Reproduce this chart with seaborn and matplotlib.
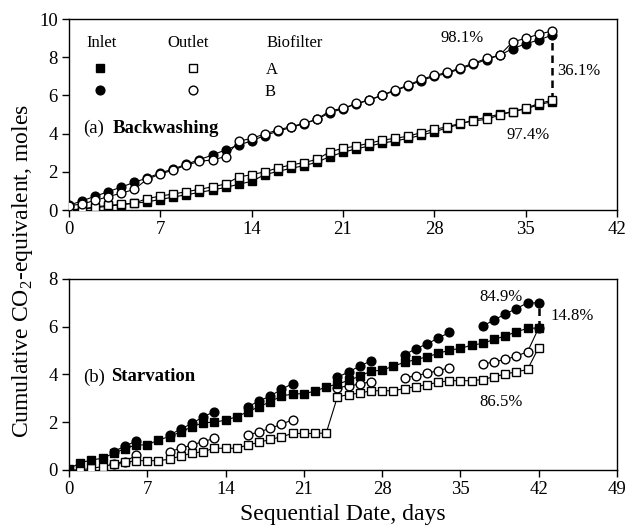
import numpy as np
import pandas as pd
import matplotlib
matplotlib.use("Agg")
import matplotlib.pyplot as plt
import seaborn as sns

# ---- (a) Backwashing: days 0-37 ----
days_a = list(range(38))
inlet_a_A = [0.0, 0.05, 0.12, 0.2, 0.28, 0.35, 0.43, 0.55, 0.68, 0.8, 0.92, 1.05, 1.18, 1.35,
             1.5, 1.85, 2.02, 2.18, 2.32, 2.5, 2.8, 3.02, 3.2, 3.35, 3.5, 3.62, 3.75, 3.92,
             4.1, 4.3, 4.5, 4.72, 4.85, 5.02, 5.15, 5.3, 5.5, 5.68]
outlet_a_A = [0.0, 0.06, 0.16, 0.24, 0.3, 0.36, 0.6, 0.73, 0.84, 0.96, 1.08, 1.22, 1.36, 1.73,
              1.85, 2.0, 2.2, 2.36, 2.48, 2.65, 3.05, 3.23, 3.35, 3.49, 3.66, 3.75, 3.87, 4.05,
              4.22, 4.36, 4.54, 4.66, 4.75, 4.97, 5.15, 5.32, 5.58, 5.74]
inlet_a_B = [0.25, 0.48, 0.72, 0.96, 1.2, 1.45, 1.68, 1.94, 2.15, 2.4, 2.64, 2.88, 3.15, 3.4,
             3.62, 3.9, 4.12, 4.32, 4.52, 4.74, 5.1, 5.3, 5.55, 5.75, 6.0, 6.25, 6.5, 6.78,
             7.0, 7.15, 7.4, 7.62, 7.88, 8.1, 8.45, 8.7, 8.9, 9.15]
outlet_a_B = [0.22, 0.32, 0.5, 0.7, 0.88, 1.08, 1.62, 1.88, 2.1, 2.35, 2.55, 2.62, 2.8, 3.6,
              3.75, 3.98, 4.19, 4.36, 4.54, 4.75, 5.2, 5.32, 5.58, 5.76, 6.02, 6.28, 6.54, 6.84,
              7.05, 7.2, 7.45, 7.68, 7.94, 8.1, 8.8, 8.99, 9.2, 9.37]

# ---- (b) Starvation: days 0-42 ----
days_b = list(range(43))
inlet_b_A = [0.05, 0.3, 0.42, 0.49, 0.7, 0.9, 1.05, 1.05, 1.26, 1.4, 1.6, 1.81, 1.98, 2.0,
             2.09, 2.23, 2.44, 2.65, 2.86, 3.1, 3.18, 3.2, 3.3, 3.48, 3.6, 3.75, 3.93, 4.14,
             4.18, 4.35, 4.51, 4.62, 4.74, 4.88, 5.02, 5.09, 5.23, 5.3, 5.47, 5.61, 5.79,
             5.93, 5.95]
outlet_b_A = [0.0, 0.0, 0.07, 0.14, 0.25, 0.32, 0.39, 0.39, 0.39, 0.45, 0.59, 0.7, 0.77, 0.91,
              0.91, 0.91, 1.05, 1.16, 1.28, 1.39, 1.53, 1.53, 1.53, 1.55, 3.06, 3.16, 3.22,
              3.32, 3.32, 3.32, 3.41, 3.49, 3.58, 3.67, 3.74, 3.74, 3.74, 3.79, 3.9, 4.02,
              4.11, 4.21, 5.13]
days_b_B = [4, 5, 6, 9, 10, 11, 12, 13, 16, 17, 18, 19, 20, 24, 25, 26, 27,
            30, 31, 32, 33, 34, 37, 38, 39, 40, 41, 42]
inlet_b_B = [0.77, 1.0, 1.21, 1.46, 1.72, 1.95, 2.23, 2.44, 2.65, 2.89, 3.1, 3.38, 3.62,
             3.88, 4.11, 4.35, 4.57, 4.83, 5.07, 5.28, 5.52, 5.76,
             6.03, 6.28, 6.53, 6.76, 7.0, 7.0]
outlet_b_B = [0.27, 0.35, 0.62, 0.77, 0.91, 1.05, 1.19, 1.32, 1.46, 1.6, 1.74, 1.92, 2.1,
              3.45, 3.52, 3.6, 3.7, 3.86, 3.95, 4.05, 4.16, 4.28,
              4.43, 4.53, 4.63, 4.77, 4.95, 5.95]

sns.set_style("ticks")
plt.rcParams['font.family'] = ['Liberation Serif', 'DejaVu Serif']
plt.rcParams['mathtext.fontset'] = 'custom'
plt.rcParams['mathtext.rm'] = 'Liberation Serif'
plt.rcParams['text.color'] = 'black'
plt.rcParams['axes.labelcolor'] = 'black'
plt.rcParams['xtick.color'] = 'black'
plt.rcParams['ytick.color'] = 'black'


def draw(ax, days, vals, marker, filled, ms):
    d = pd.DataFrame({"day": days, "v": vals})
    d["seg"] = (d["day"].diff().fillna(1) > 1).cumsum()
    sns.lineplot(data=d, x="day", y="v", units="seg", estimator=None, ax=ax,
                 color="black", lw=0.8, marker=marker, markersize=ms,
                 markerfacecolor="black" if filled else "white",
                 markeredgecolor="black", markeredgewidth=1.0, zorder=3)


fig = plt.figure(figsize=(6.29, 5.31), dpi=100)
ax1 = fig.add_axes([0.1097, 0.6045, 0.8712, 0.3597])
ax2 = fig.add_axes([0.1097, 0.1149, 0.8712, 0.3597])

# panel (a)
ax1.vlines(days_a[-1], outlet_a_A[-1], inlet_a_B[-1], colors="black",
           linestyles=(0, (3, 2)), lw=1.8, zorder=2)
draw(ax1, days_a, inlet_a_A, "s", True, 5.8)
draw(ax1, days_a, outlet_a_A, "s", False, 5.8)
draw(ax1, days_a, inlet_a_B, "o", True, 6.3)
draw(ax1, days_a, outlet_a_B, "o", False, 6.3)

# panel (b)
ax2.vlines(days_b[-1], inlet_b_A[-1], inlet_b_B[-1], colors="black",
           linestyles=(0, (3, 2)), lw=1.8, zorder=2)
draw(ax2, days_b_B, outlet_b_B, "o", False, 6.3)
draw(ax2, days_b, outlet_b_A, "s", False, 5.8)
draw(ax2, days_b_B, inlet_b_B, "o", True, 6.3)
draw(ax2, days_b, inlet_b_A, "s", True, 5.8)

ax1.set_xlim(0, 42)
ax1.set_ylim(0, 10)
ax1.set_xticks(range(0, 43, 7))
ax1.set_yticks(range(0, 11, 2))
ax2.set_xlim(0, 49)
ax2.set_ylim(0, 8)
ax2.set_xticks(range(0, 50, 7))
ax2.set_yticks(range(0, 9, 2))

for ax in (ax1, ax2):
    ax.set_xlabel("")
    ax.set_ylabel("")
    ax.tick_params(direction="out", length=5, width=1, labelsize=13.5, pad=3,
                   colors="black")
    for s in ax.spines.values():
        s.set_linewidth(1.0)
        s.set_color("black")

# legend of panel (a)
tfs = 12
ax1.text(0.060, 0.874, "Inlet", transform=ax1.transAxes, ha="center", va="center", fontsize=tfs)
ax1.text(0.217, 0.874, "Outlet", transform=ax1.transAxes, ha="center", va="center", fontsize=tfs)
ax1.text(0.412, 0.874, "Biofilter", transform=ax1.transAxes, ha="center", va="center", fontsize=tfs)
ax1.text(0.370, 0.733, "A", transform=ax1.transAxes, ha="center", va="center", fontsize=tfs)
ax1.text(0.367, 0.618, "B", transform=ax1.transAxes, ha="center", va="center", fontsize=tfs)
ax1.plot([0.0566], [0.743], "s", ms=5.8, mfc="black", mec="black", transform=ax1.transAxes)
ax1.plot([0.226], [0.743], "s", ms=5.8, mfc="white", mec="black", mew=1, transform=ax1.transAxes)
ax1.plot([0.0566], [0.628], "o", ms=6.3, mfc="black", mec="black", transform=ax1.transAxes)
ax1.plot([0.226], [0.628], "o", ms=6.3, mfc="white", mec="black", mew=1, transform=ax1.transAxes)

# panel titles
ax1.text(1.07, 4.29, "(a)", ha="left", va="center", fontsize=13.5)
ax1.text(3.37, 4.29, "Backwashing", ha="left", va="center", fontsize=13.5, fontweight="bold")
ax2.text(1.25, 3.9, "(b)", ha="left", va="center", fontsize=13.5)
ax2.text(3.73, 3.9, "Starvation", ha="left", va="center", fontsize=13.5, fontweight="bold")

# percentage annotations
afs = 12
ax1.text(30.1, 9.0, "98.1%", ha="center", va="center", fontsize=afs)
ax1.text(35.2, 3.93, "97.4%", ha="center", va="center", fontsize=afs)
ax1.text(37.4, 7.28, "36.1%", ha="left", va="center", fontsize=afs)
ax2.text(38.6, 7.24, "84.9%", ha="center", va="center", fontsize=afs)
ax2.text(43.06, 6.44, "14.8%", ha="left", va="center", fontsize=afs)
ax2.text(38.6, 2.85, "86.5%", ha="center", va="center", fontsize=afs)

ax2.set_xlabel("Sequential Date, days", fontsize=17, labelpad=4, color="black")
fig.text(0.035, 0.49, "Cumulative CO$_{2}$-equivalent, moles", rotation=90,
         ha="center", va="center", fontsize=17, color="black")

fig.savefig("out.png", dpi=100)
